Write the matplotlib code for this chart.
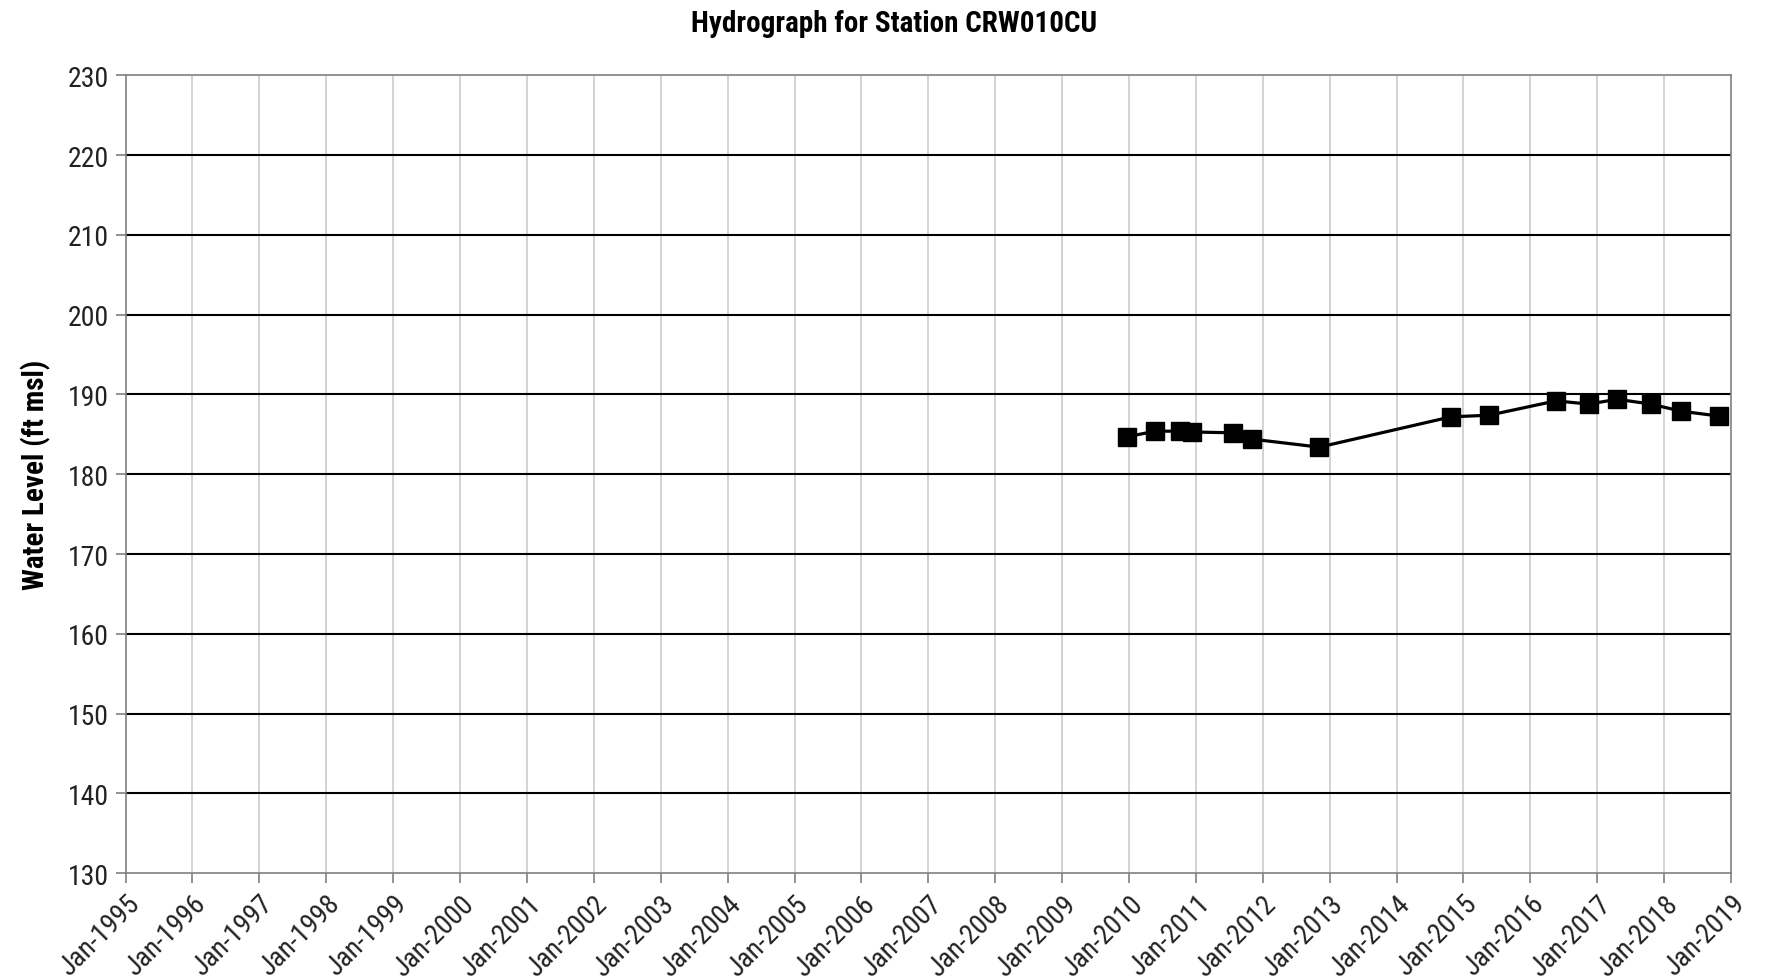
import datetime as dt
import matplotlib
matplotlib.use("Agg")
import matplotlib.pyplot as plt
import matplotlib.dates as mdates

dates = ["2009-12-20", "2010-05-25", "2010-10-05", "2010-12-10", "2011-07-20",
         "2011-11-05", "2012-11-05", "2014-10-25", "2015-05-20", "2016-05-20",
         "2016-11-15", "2017-04-20", "2017-10-20", "2018-04-05", "2018-10-25"]
levels = [184.7, 185.4, 185.4, 185.3, 185.2, 184.4, 183.4, 187.2, 187.4,
          189.2, 188.8, 189.4, 188.8, 187.9, 187.3]

years = list(range(1995, 2020))
y_ticks = list(range(130, 231, 10))

plt.rcParams['font.family'] = ['Roboto Condensed', 'Liberation Sans', 'DejaVu Sans']

x = [dt.datetime.strptime(d, "%Y-%m-%d") for d in dates]
year_ticks = [dt.datetime(y, 1, 1) for y in years]

fig = plt.figure(figsize=(17.89, 9.79), dpi=100)
ax = fig.add_axes([0.0702, 0.1072, 0.8974, 0.8147])

for yt in y_ticks[1:-1]:
    ax.axhline(yt, color='black', lw=1.5, zorder=1)
for t in year_ticks[1:-1]:
    ax.axvline(t, color='#cccccc', lw=1.2, zorder=0)

ax.plot(x, levels, color='black', lw=2.3, marker='s', ms=12.5, mfc='black', mec='black', zorder=3)

ax.set_xlim(year_ticks[0], year_ticks[-1])
ax.set_ylim(130, 230)
ax.set_yticks(y_ticks)
ax.set_xticks(year_ticks)
ax.xaxis.set_major_formatter(mdates.DateFormatter("Jan-%Y"))
for lbl in ax.get_xticklabels():
    lbl.set_rotation(45)
    lbl.set_ha('right')
    lbl.set_rotation_mode('anchor')

for s in ax.spines.values():
    s.set_color('#808080')
    s.set_linewidth(1.2)
ax.tick_params(axis='both', direction='out', length=7, color='#808080', width=1.2,
               labelsize=20, labelcolor='#222222', pad=5)

ax.set_ylabel("Water Level (ft msl)", fontsize=21, fontweight='bold', labelpad=12)
fig.suptitle("Hydrograph for Station CRW010CU", fontsize=21, fontweight='bold', y=0.99)

fig.savefig("out.png", dpi=100)
